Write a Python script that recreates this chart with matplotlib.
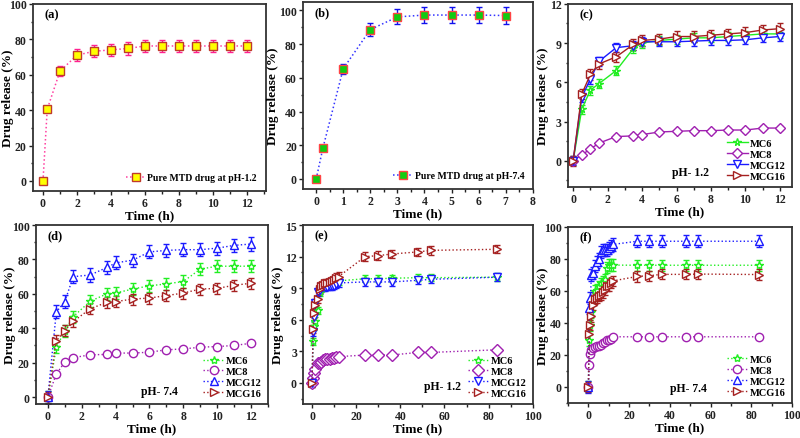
import numpy as np
import matplotlib
matplotlib.use("Agg")
import matplotlib.pyplot as plt
from matplotlib.ticker import MultipleLocator

plt.rcParams["font.family"] = ["Liberation Serif", "DejaVu Serif"]
plt.rcParams["font.weight"] = "bold"
plt.rcParams["axes.labelweight"] = "bold"

# ── (a) / (b): pure drug ─────────────────────────────────────────────────────
t_a = [0, 0.25, 1, 2, 3, 4, 5, 6, 7, 8, 9, 10, 11, 12]
rel_a = [0, 40.5, 62, 71, 73.2, 74, 74.8, 76.2, 76.2, 76.2, 76.2, 76.2, 76.2, 76.2]
err_a = [0, 1.5, 3, 3.5, 3.5, 3.5, 3.5, 3.5, 3.5, 3.5, 3.5, 3.5, 3.5, 3.5]

t_b = [0, 0.25, 1, 2, 3, 4, 5, 6, 7]
rel_b = [0, 18.5, 65.5, 88.7, 96.2, 97.3, 97.3, 97.3, 97]
err_b = [0, 1.5, 3, 4, 4.5, 4.8, 4.8, 4.8, 4.8]

# ── (c) / (e): pH 1.2 ────────────────────────────────────────────────────────
t_c = [0, 0.5, 1, 1.5, 2.5, 3.5, 4, 5, 6, 7, 8, 9, 10, 11, 12]
mc6_c = [0, 3.95, 5.4, 5.9, 6.9, 8.6, 9.0, 9.2, 9.3, 9.4, 9.4, 9.5, 9.6, 9.7, 9.7]
mc8_c = [0, 0.45, 0.9, 1.35, 1.85, 1.9, 2.0, 2.2, 2.25, 2.3, 2.3, 2.35, 2.35, 2.5, 2.5]
mcg12_c = [0, 4.85, 6.25, 7.6, 8.65, 8.8, 9.1, 9.1, 9.1, 9.15, 9.2, 9.2, 9.25, 9.4, 9.5]
mcg16_c = [0, 5.1, 6.6, 7.4, 7.95, 8.9, 9.2, 9.3, 9.5, 9.5, 9.6, 9.7, 9.8, 10.0, 10.1]

t_e = t_c + [24, 30, 36, 48, 54, 84]
mc6_e = mc6_c + [9.9, 9.9, 9.95, 10.0, 10.0, 10.05]
mc8_e = mc8_c + [2.65, 2.65, 2.65, 2.9, 2.9, 3.15]
mcg12_e = mcg12_c + [9.6, 9.6, 9.6, 9.75, 9.85, 10.05]
mcg16_e = mcg16_c + [12.0, 12.1, 12.25, 12.45, 12.6, 12.7]

# ── (d) / (f): pH 7.4 ────────────────────────────────────────────────────────
t_d = [0, 0.5, 1, 1.5, 2.5, 3.5, 4, 5, 6, 7, 8, 9, 10, 11, 12]
mc6_d = [0, 29, 38.5, 46.8, 55.7, 60.1, 60.5, 62.8, 64.7, 65.8, 67.2, 74.4, 76.1, 76.1, 76.1]
mc8_d = [0, 13.4, 20.4, 22.9, 24.6, 24.8, 25.6, 25.6, 26.1, 27.5, 28, 29, 29.4, 30, 31.3]
mcg12_d = [0, 49.5, 55.5, 70, 71, 75.4, 78, 79.6, 84.4, 85.3, 85.7, 85.7, 86.6, 88.2, 89]
mcg16_d = [0, 32.8, 38.5, 44, 51.3, 55.2, 55.5, 57, 57.6, 59, 60.5, 62.8, 63.2, 65, 66.2]

t_f = t_d + [24, 30, 36, 48, 54, 84]
mc6_f = mc6_d + [76, 76, 76, 76, 76, 76]
mc8_f = mc8_d + [31.3, 31.3, 31.3, 31.3, 31.3, 31.3]
mcg12_f = mcg12_d + [91, 91, 91, 91, 91, 91]
mcg16_f = mcg16_d + [69, 69.5, 70.3, 70.3, 70.5, 70.2]

LABELS = ["MC6", "MC8", "MCG12", "MCG16"]
COLORS = ["#22ee22", "#a020b0", "#1a1aff", "#a52020"]
ERR_LOW = [0.35, 0.12, 0.35, 0.4]      # pH 1.2 error sizes
ERR_HIGH = [3.5, 1.2, 3.8, 3.2]        # pH 7.4 error sizes

TXT = dict(fontsize=8.5, fontweight="bold")
FIG_W = 800


def style_axes(ax, xlim, ylim, xmaj, xmin, ymaj, ymin, tag, ylab_off=25):
    ax.set_xlim(*xlim)
    ax.set_ylim(*ylim)
    ax.xaxis.set_major_locator(MultipleLocator(xmaj))
    ax.xaxis.set_minor_locator(MultipleLocator(xmin))
    ax.yaxis.set_major_locator(MultipleLocator(ymaj))
    ax.yaxis.set_minor_locator(MultipleLocator(ymin))
    ax.tick_params(which="both", direction="out", top=False, right=False,
                   labelsize=8.5, width=1.0, colors="#222", pad=1.5)
    ax.tick_params(which="major", length=3)
    ax.tick_params(which="minor", length=1.8)
    for s in ax.spines.values():
        s.set_linewidth(1.3)
        s.set_color("#333")
    for lab in ax.get_xticklabels() + ax.get_yticklabels():
        lab.set_fontweight("bold")
    ax.set_xlabel("Time (h)", fontsize=9.5, labelpad=0)
    ax.set_ylabel("Drug release (%)", fontsize=9.5)
    # y label placed a fixed number of pixels left of the spine
    w_px = ax.get_position().width * FIG_W
    ax.yaxis.label.set_verticalalignment("center")
    ax.yaxis.set_label_coords(-ylab_off / w_px, 0.5)
    ax.text(0.05, 0.945, tag, transform=ax.transAxes, ha="left", va="center",
            fontsize=9, fontweight="bold")


def plot_group(ax, t, series, markers, ls, errs, ms=6):
    handles = []
    for y, lab, col, mk, e in zip(series, LABELS, COLORS, markers, errs):
        cont = ax.errorbar(t, y, yerr=e, color=col, ls=ls, lw=1.0, marker=mk,
                           ms=ms, mfc="white", mec=col, mew=1.0, ecolor=col,
                           elinewidth=1.0, capsize=2, capthick=1.0, label=lab)
        handles.append(cont.lines[0])
    # legend shows only line + marker, no error caps
    ax.legend(handles, LABELS, loc="lower right", frameon=False,
              handlelength=2.0, handletextpad=0.2, labelspacing=0.15,
              borderaxespad=0.2, prop=dict(size=7.5, weight="bold"))


def pure_legend(ax, cont, label):
    ax.legend([cont.lines[0]], [label], loc="lower right", frameon=False,
              handlelength=2.0, handletextpad=0.2,
              prop=dict(size=7, weight="bold"))


fig = plt.figure(figsize=(8.0, 4.39), dpi=100)

# (a)
ax = fig.add_axes([0.041, 0.563, 0.291, 0.426])
c = ax.errorbar(t_a, rel_a, yerr=err_a, color="#ff3fa0", ls=":", lw=1.1,
                marker="s", ms=5.5, mfc="#ffff00", mec="#c0392b", mew=1.0,
                ecolor="#ff2090", elinewidth=1.0, capsize=2, capthick=1.0)
style_axes(ax, (-0.6, 13.1), (-5.6, 100), 2, 1, 20, 10, "(a)", 25)
pure_legend(ax, c, "Pure MTD drug at pH-1.2")

# (b)
ax = fig.add_axes([0.379, 0.567, 0.287, 0.426])
c = ax.errorbar(t_b, rel_b, yerr=err_b, color="#3333ff", ls=":", lw=1.1,
                marker="s", ms=5.5, mfc="#11cc11", mec="#ff4444", mew=1.0,
                ecolor="#1010ee", elinewidth=1.0, capsize=2, capthick=1.0)
style_axes(ax, (-0.48, 8), (-6, 105), 1, 0.5, 20, 10, "(b)", 30)
pure_legend(ax, c, "Pure MTD drug at pH-7.4")

# (c)
ax = fig.add_axes([0.710, 0.572, 0.280, 0.417])
plot_group(ax, t_c, [mc6_c, mc8_c, mcg12_c, mcg16_c],
           ["*", "D", "v", ">"], "-", ERR_LOW, ms=5.5)
style_axes(ax, (-0.3, 12.7), (-2, 12), 2, 1, 3, 1.5, "(c)", 25)
ax.text(6.8, -0.85, "pH- 1.2", ha="center", va="center", **TXT)

# (d)
ax = fig.add_axes([0.045, 0.0775, 0.290, 0.4075])
plot_group(ax, t_d, [mc6_d, mc8_d, mcg12_d, mcg16_d],
           ["*", "o", "^", ">"], ":", ERR_HIGH)
style_axes(ax, (-0.7, 13), (-4, 100), 2, 1, 20, 10, "(d)", 26)
ax.text(6.6, 3.3, "pH- 7.4", ha="center", va="center", **TXT)

# (e)
ax = fig.add_axes([0.379, 0.0775, 0.287, 0.4075])
plot_group(ax, t_e, [mc6_e, mc8_e, mcg12_e, mcg16_e],
           ["*", "D", "v", ">"], ":", ERR_LOW)
style_axes(ax, (-4, 100), (-2, 15), 20, 10, 3, 1.5, "(e)", 25)
ax.text(59, -0.3, "pH- 1.2", ha="center", va="center", **TXT)

# (f)
ax = fig.add_axes([0.710, 0.080, 0.280, 0.401])
plot_group(ax, t_f, [mc6_f, mc8_f, mcg12_f, mcg16_f],
           ["*", "o", "^", ">"], ":", ERR_HIGH)
style_axes(ax, (-10, 100), (-10, 100), 20, 10, 20, 10, "(f)", 25)
ax.text(49, -0.4, "pH- 7.4", ha="center", va="center", **TXT)

fig.savefig("out.png", dpi=100, facecolor="white")
